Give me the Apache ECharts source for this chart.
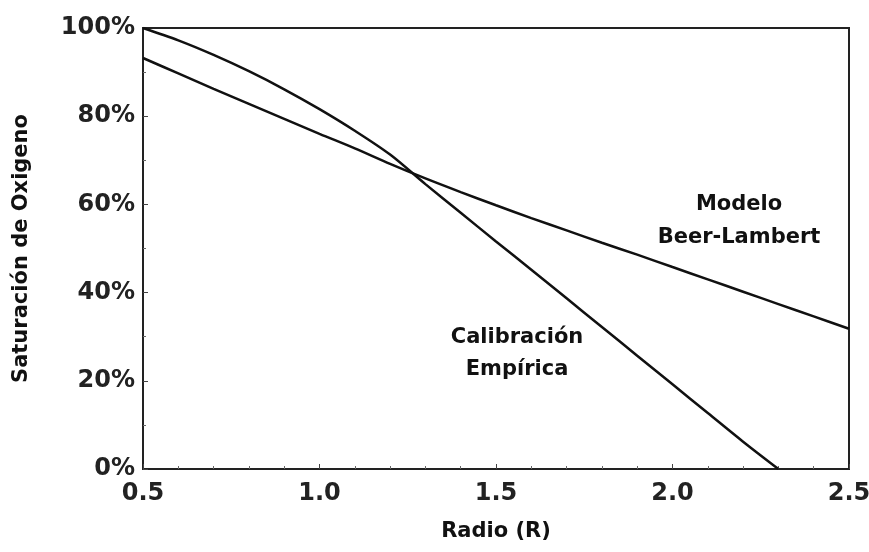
<!DOCTYPE html>
<html lang="es">
<head>
    <meta charset="UTF-8">
    <title>Saturación de Oxigeno</title>
    <style>
        *{
            margin: 0;
            padding: 0;
        }
        body{
            background: #fff;
        }
        #box{
            width: 869px;
            height: 552px;
        }
    </style>
    <script src="https://cdn.jsdelivr.net/npm/echarts@6/dist/echarts.min.js"></script>
</head>
<body>
    <div id="box"></div>
    <script>
        // datos
        var radioBL = [0.5, 0.6, 0.7, 0.8, 0.9, 1.0, 1.1, 1.2, 1.3, 1.4, 1.5, 1.6, 1.7, 1.8, 1.9, 2.0, 2.1, 2.2, 2.3, 2.4, 2.5];
        var beerLambert = [93.2, 89.7, 86.2, 82.8, 79.4, 76.0, 72.7, 69.2, 65.9, 62.8, 59.8, 56.9, 54.1, 51.3, 48.6, 45.8, 43.0, 40.2, 37.4, 34.6, 31.8];

        var radioEmp = [0.5, 0.6, 0.7, 0.8, 0.9, 1.0, 1.1, 1.2, 1.3, 1.4, 1.5, 1.6, 1.7, 1.8, 1.9, 2.0, 2.1, 2.2, 2.3];
        var empirica = [100, 97.2, 93.9, 90.2, 86.1, 81.6, 76.7, 71.3, 64.6, 58.1, 51.6, 45.2, 38.7, 32.2, 25.7, 19.2, 12.7, 6.2, 0];

        var xTicks = [0.5, 1.0, 1.5, 2.0, 2.5];
        var yTicks = [0, 20, 40, 60, 80, 100];

        function pares(xs, ys){
            var out = [];
            for(var i = 0; i < xs.length; i++){
                out.push([xs[i], ys[i]]);
            }
            return out;
        }

        var fuente = 'DejaVu Sans';
        var negro = '#111';

        var myChart = echarts.init(document.getElementById('box'));
        var option = {
            backgroundColor: '#fff',
            animation: false,
            grid: {
                left: 143,
                top: 28,
                right: 20,
                bottom: 83,
                containLabel: false,
                outerBoundsMode: 'none',
                show: true,
                borderColor: '#222',
                borderWidth: 2
            },
            xAxis: {
                type: 'value',
                min: xTicks[0],
                max: xTicks[xTicks.length - 1],
                interval: 0.5,
                name: 'Radio (R)',
                nameLocation: 'middle',
                nameGap: 52,
                nameTextStyle: { fontFamily: fuente, fontWeight: 'bold', fontSize: 21, color: negro },
                axisLine: { lineStyle: { color: '#222', width: 2 } },
                axisTick: { inside: true, length: 5, lineStyle: { color: '#444' } },
                minorTick: { show: true, splitNumber: 5, length: 3, lineStyle: { color: '#666' } },
                splitLine: { show: false },
                axisLabel: {
                    fontFamily: fuente, fontWeight: 'bold', fontSize: 24, color: '#222', margin: 13,
                    formatter: function(v){ return v.toFixed(1); }
                }
            },
            yAxis: {
                type: 'value',
                min: yTicks[0],
                max: yTicks[yTicks.length - 1],
                interval: 20,
                name: 'Saturación de Oxigeno',
                nameLocation: 'middle',
                nameGap: 111,
                nameTextStyle: { fontFamily: fuente, fontWeight: 'bold', fontSize: 21, color: negro },
                axisLine: { lineStyle: { color: '#222', width: 2 } },
                axisTick: { inside: true, length: 5, lineStyle: { color: '#444' } },
                minorTick: { show: true, splitNumber: 2, length: 3, lineStyle: { color: '#666' } },
                splitLine: { show: false },
                axisLabel: {
                    fontFamily: fuente, fontWeight: 'bold', fontSize: 24, color: '#222', margin: 8,
                    formatter: '{value}%'
                }
            },
            series: [
                {
                    name: 'Modelo Beer-Lambert',
                    type: 'line',
                    data: pares(radioBL, beerLambert),
                    smooth: 0.3,
                    showSymbol: false,
                    lineStyle: { color: negro, width: 2.5 }
                },
                {
                    name: 'Calibración Empírica',
                    type: 'line',
                    data: pares(radioEmp, empirica),
                    smooth: 0.3,
                    showSymbol: false,
                    lineStyle: { color: negro, width: 2.5 }
                }
            ],
            graphic: [
                {
                    type: 'text', x: 739, y: 188,
                    style: { text: 'Modelo\nBeer-Lambert', fill: negro, font: 'bold 21px "DejaVu Sans"', textAlign: 'center', lineHeight: 33 }
                },
                {
                    type: 'text', x: 517, y: 322,
                    style: { text: 'Calibración\nEmpírica', fill: negro, font: 'bold 21px "DejaVu Sans"', textAlign: 'center', lineHeight: 32 }
                }
            ]
        };
        myChart.setOption(option);
    </script>
</body>
</html>
